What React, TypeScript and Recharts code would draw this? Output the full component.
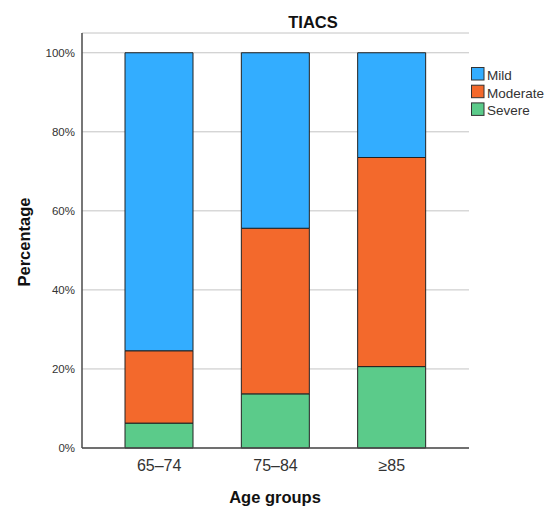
import React from "react";
import { BarChart, Bar, XAxis, YAxis, CartesianGrid } from "recharts";

const AGE_GROUPS = ["65–74", "75–84", "≥85"];
const SEVERE = [6.3, 13.7, 20.6];
const MODERATE = [18.3, 41.9, 52.9];
const MILD = [75.4, 44.4, 26.5];
const Y_TICKS = [0, 20, 40, 60, 80, 100];

const COLORS = {
  mild: "#33adff",
  moderate: "#f3692c",
  severe: "#5bcb8a",
};

const LEGEND = [
  { name: "Mild", color: COLORS.mild },
  { name: "Moderate", color: COLORS.moderate },
  { name: "Severe", color: COLORS.severe },
];

const data = AGE_GROUPS.map((group, i) => ({
  group,
  severe: SEVERE[i],
  moderate: MODERATE[i],
  mild: MILD[i],
}));

const FONT = "Liberation Sans, Arial, sans-serif";

export default function App() {
  return (
    <div style={{ position: "absolute", left: 0, top: 0, width: 548, height: 522, background: "#fff", fontFamily: FONT }}>
      <BarChart
        width={548}
        height={522}
        data={data}
        margin={{ top: 33, right: 79, bottom: 0, left: 32 }}
      >
        <CartesianGrid vertical={false} stroke="#c4c4c4" strokeWidth={1} />
        <XAxis
          dataKey="group"
          height={74}
          padding={{ left: 19, right: 19 }}
          tickLine={false}
          tickMargin={6}
          axisLine={{ stroke: "#4a4a4a", strokeWidth: 1.5 }}
          tick={{ fill: "#333", fontSize: 16, fontFamily: FONT }}
        />
        <YAxis
          width={50}
          domain={[0, 105]}
          ticks={Y_TICKS}
          tickFormatter={(v) => `${v}%`}
          tickLine={false}
          tickMargin={1}
          axisLine={{ stroke: "#4a4a4a", strokeWidth: 1.5 }}
          tick={{ fill: "#333", fontSize: 11.5, fontFamily: FONT }}
        />
        <Bar dataKey="severe" stackId="a" barSize={68} fill={COLORS.severe} stroke="#222" strokeWidth={1} isAnimationActive={false} />
        <Bar dataKey="moderate" stackId="a" barSize={68} fill={COLORS.moderate} stroke="#222" strokeWidth={1} isAnimationActive={false} />
        <Bar dataKey="mild" stackId="a" barSize={68} fill={COLORS.mild} stroke="#222" strokeWidth={1} isAnimationActive={false} />
      </BarChart>
      <svg width={548} height={522} style={{ position: "absolute", left: 0, top: 0, pointerEvents: "none" }}>
        <text x={313} y={28} textAnchor="middle" fontSize={16.5} fontWeight="bold" fill="#111" fontFamily={FONT}>
          TIACS
        </text>
        <text
          x={30}
          y={242}
          textAnchor="middle"
          fontSize={16.5}
          fontWeight="bold"
          fill="#111"
          fontFamily={FONT}
          transform="rotate(-90 30 242)"
        >
          Percentage
        </text>
        <text x={275} y={503} textAnchor="middle" fontSize={16.5} fontWeight="bold" fill="#111" fontFamily={FONT}>
          Age groups
        </text>
        {LEGEND.map((item, i) => (
          <g key={item.name}>
            <rect x={471.5} y={67.5 + i * 17.7} width={12.5} height={12.5} fill={item.color} stroke="#333" strokeWidth={1} />
            <text x={487} y={80 + i * 17.7} fontSize={13.5} fill="#333" fontFamily={FONT}>
              {item.name}
            </text>
          </g>
        ))}
      </svg>
    </div>
  );
}
